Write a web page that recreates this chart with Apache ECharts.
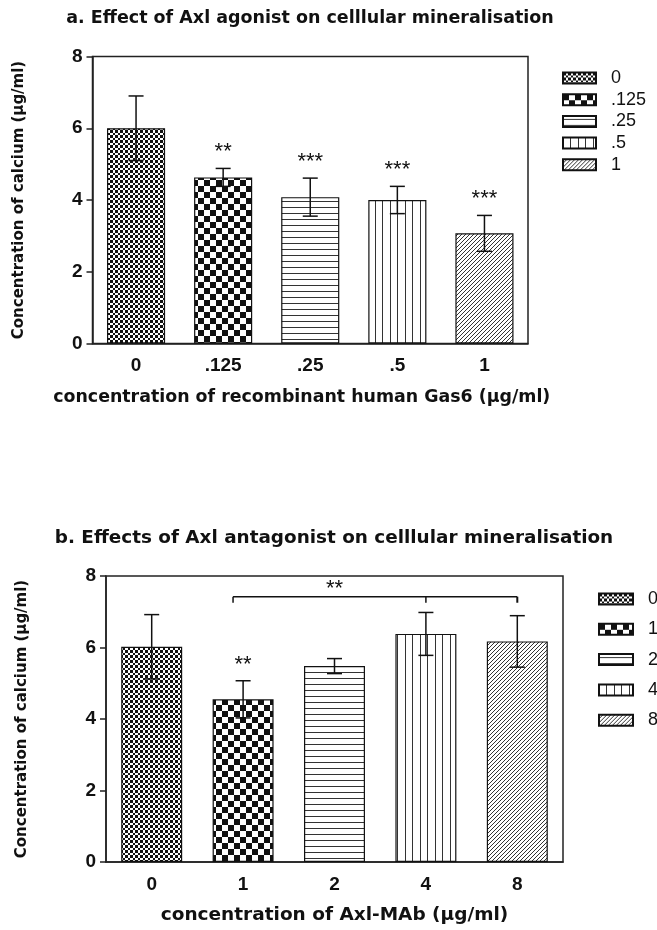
<!DOCTYPE html>
<html><head><meta charset="utf-8">
<script src="https://cdn.jsdelivr.net/npm/echarts@6/dist/echarts.min.js"></script>
<style>html,body{margin:0;padding:0;background:#fff}#a,#b{width:657px;height:465px}</style>
</head><body><div id="a"></div><div id="b"></div>
<script>
// ---------- data ----------
const yName = 'Concentration of calcium (µg/ml)';
const yMin = 0, yMax = 8, yStep = 2;

const titleA = 'a. Effect of Axl agonist on celllular mineralisation';
const xNameA = 'concentration of recombinant human Gas6 (µg/ml)';
const catsA = ['0', '.125', '.25', '.5', '1'];
const meanA = [6.0, 4.63, 4.08, 4.0, 3.07];
const errA  = [0.9, 0.25, 0.53, 0.38, 0.5];
const sigA  = ['', '**', '***', '***', '***'];

const titleB = 'b. Effects of Axl antagonist on celllular mineralisation';
const xNameB = 'concentration of Axl-MAb (µg/ml)';
const catsB = ['0', '1', '2', '4', '8'];
const meanB = [6.02, 4.55, 5.48, 6.38, 6.17];
const errB  = [0.9, 0.52, 0.21, 0.6, 0.72];
const sigB  = ['', '**', '', '', ''];
const bracketCatsB = ['1', '4', '8'];
const bracketValB = 7.42;
const bracketSigB = '**';

// ---------- patterns ----------
function mk(w, h, draw) {
  const c = document.createElement('canvas'); c.width = w; c.height = h;
  const g = c.getContext('2d'); g.fillStyle = '#fff'; g.fillRect(0, 0, w, h);
  g.fillStyle = '#111'; draw(g);
  return { image: c, repeat: 'repeat' };
}
const pats = [
  mk(10, 10, g => { const s = [0, 3, 5, 8, 10]; for (let i = 0; i < 4; i++) for (let j = 0; j < 4; j++) if ((i + j) % 2 === 0) g.fillRect(s[i], s[j], s[i + 1] - s[i], s[j + 1] - s[j]); }),
  mk(12, 12, g => { g.fillRect(0, 0, 6, 6); g.fillRect(6, 6, 6, 6); }),
  mk(1, 6, g => { g.fillStyle = '#333'; g.fillRect(0, 3, 1, 1); }),
  mk(15, 1, g => { g.fillStyle = '#333'; g.fillRect(0, 0, 1, 1); g.fillRect(7, 0, 1, 1); }),
  mk(4, 4, g => { g.fillStyle = '#333'; g.fillRect(3, 0, 1, 1); g.fillRect(2, 1, 1, 1); g.fillRect(1, 2, 1, 1); g.fillRect(0, 3, 1, 1); })
];

const INK = '#111';
const boldFont = { fontFamily: 'DejaVu Sans', fontWeight: 'bold', color: INK };

function build(o) {
  const series = o.cats.map((c, i) => ({
    type: 'bar', name: c, stack: 'all', barWidth: '66.7%',
    data: o.cats.map((cc, j) => (j === i ? o.mean[i] : '-')),
    itemStyle: { color: pats[i], borderColor: INK, borderWidth: 1.2 }
  }));
  series.push({
    type: 'custom', z: 5, silent: true,
    encode: { x: 0, y: 1 },
    data: o.cats.map((c, i) => [i, o.mean[i], o.err[i]]),
    renderItem: (p, api) => {
      const i = api.value(0), m = api.value(1), e = api.value(2);
      const t = api.coord([i, m + e]), b = api.coord([i, m - e]);
      const hw = 7.5, ls = { stroke: INK, lineWidth: 1.5 };
      const ch = [
        { type: 'line', shape: { x1: t[0], y1: t[1], x2: b[0], y2: b[1] }, style: ls },
        { type: 'line', shape: { x1: t[0] - hw, y1: t[1], x2: t[0] + hw, y2: t[1] }, style: ls },
        { type: 'line', shape: { x1: b[0] - hw, y1: b[1], x2: b[0] + hw, y2: b[1] }, style: ls }
      ];
      const s = o.sig[i];
      if (s) ch.push({ type: 'text', style: { text: s, x: t[0], y: t[1] - 16, align: 'center', verticalAlign: 'middle', fontFamily: 'Liberation Sans', fontSize: 22, fill: INK } });
      return { type: 'group', children: ch };
    }
  });
  if (o.bracket) {
    const br = o.bracket;
    series.push({
      type: 'custom', z: 5, silent: true, encode: { x: 0, y: 3 },
      data: [[o.cats.indexOf(br.cats[0]), o.cats.indexOf(br.cats[1]), o.cats.indexOf(br.cats[2]), br.val]],
      renderItem: (p, api) => {
        const v = api.value(3), bw = api.size([1, 0])[0];
        const p0 = api.coord([api.value(0), v]), p1 = api.coord([api.value(1), v]), p2 = api.coord([api.value(2), v]);
        const x0 = p0[0] - bw * 0.11, y = p0[1], d = 6, ls = { stroke: INK, lineWidth: 1.5 };
        return { type: 'group', children: [
          { type: 'line', shape: { x1: x0, y1: y, x2: p2[0], y2: y }, style: ls },
          { type: 'line', shape: { x1: x0, y1: y, x2: x0, y2: y + d }, style: ls },
          { type: 'line', shape: { x1: p1[0], y1: y, x2: p1[0], y2: y + d }, style: ls },
          { type: 'line', shape: { x1: p2[0], y1: y, x2: p2[0], y2: y + d }, style: { stroke: INK, lineWidth: 2 } },
          { type: 'text', style: { text: br.sig, x: (p0[0] + p1[0]) / 2, y: y - 8, align: 'center', verticalAlign: 'middle', fontFamily: 'Liberation Sans', fontSize: 22, fill: INK } }
        ] };
      }
    });
  }
  return {
    animation: false,
    title: { text: o.title, left: o.titleX, top: o.titleY, textAlign: 'center', textStyle: Object.assign({ fontSize: o.titleSize }, boldFont) },
    legend: {
      orient: 'vertical', left: o.legX, top: o.legY, itemWidth: o.legW, itemHeight: 11, itemGap: o.legGap, icon: 'rect',
      selectedMode: false,
      textStyle: { fontFamily: 'Liberation Sans', fontSize: 18, color: INK, lineHeight: 18, padding: [0, 0, 0, 10] },
      data: o.cats
    },
    grid: { left: o.grid[0], right: o.grid[1], top: o.grid[2], bottom: o.grid[3], show: true, borderColor: '#222', borderWidth: 1.5 },
    xAxis: {
      type: 'category', data: o.cats,
      axisLine: { lineStyle: { color: '#222', width: 1.5 } },
      axisTick: { alignWithLabel: true, length: 6, lineStyle: { color: '#222', width: 1.5 } },
      axisLabel: { fontFamily: 'Liberation Sans', fontWeight: 'bold', fontSize: 19, color: INK, margin: 13 },
      name: o.xName, nameLocation: 'middle', nameGap: o.xNameGap,
      nameTextStyle: Object.assign({ fontSize: o.xNameSize, padding: o.xNamePad }, boldFont)
    },
    yAxis: {
      type: 'value', min: yMin, max: yMax, interval: yStep,
      splitLine: { show: false },
      axisLine: { show: true, lineStyle: { color: '#222', width: 1.5 } },
      axisTick: { show: true, length: 6, lineStyle: { color: '#222', width: 1.5 } },
      axisLabel: { fontFamily: 'Liberation Sans', fontWeight: 'bold', fontSize: 19, color: INK, margin: 10 },
      name: yName, nameLocation: 'middle', nameGap: o.yNameGap,
      nameTextStyle: Object.assign({ fontSize: 15 }, boldFont)
    },
    series
  };
}

const ca = echarts.init(document.getElementById('a'), null, { renderer: 'canvas' });
ca.setOption(build({
  title: titleA, titleX: 305, titleY: 4, titleSize: 17.5,
  xName: xNameA, xNamePad: [0, 17, 0, 0], xNameSize: 17.4, xNameGap: 45,
  cats: catsA, mean: meanA, err: errA, sig: sigA,
  legX: 557, legY: 64, legW: 33, legGap: 3.7,
  grid: [92.5, 129, 56.5, 465 - 343.5], yNameGap: 66
}));
const cb = echarts.init(document.getElementById('b'), null, { renderer: 'canvas' });
cb.setOption(build({
  title: titleB, titleX: 329, titleY: 59, titleSize: 18.4,
  xName: xNameB, xNamePad: [0, 0, 0, 0], xNameSize: 18.5, xNameGap: 44,
  cats: catsB, mean: meanB, err: errB, sig: sigB,
  bracket: { cats: bracketCatsB, val: bracketValB, sig: bracketSigB },
  legX: 593, legY: 120, legW: 34, legGap: 12.3,
  grid: [106, 94, 111, 465 - 399], yNameGap: 76
}));
</script></body></html>
